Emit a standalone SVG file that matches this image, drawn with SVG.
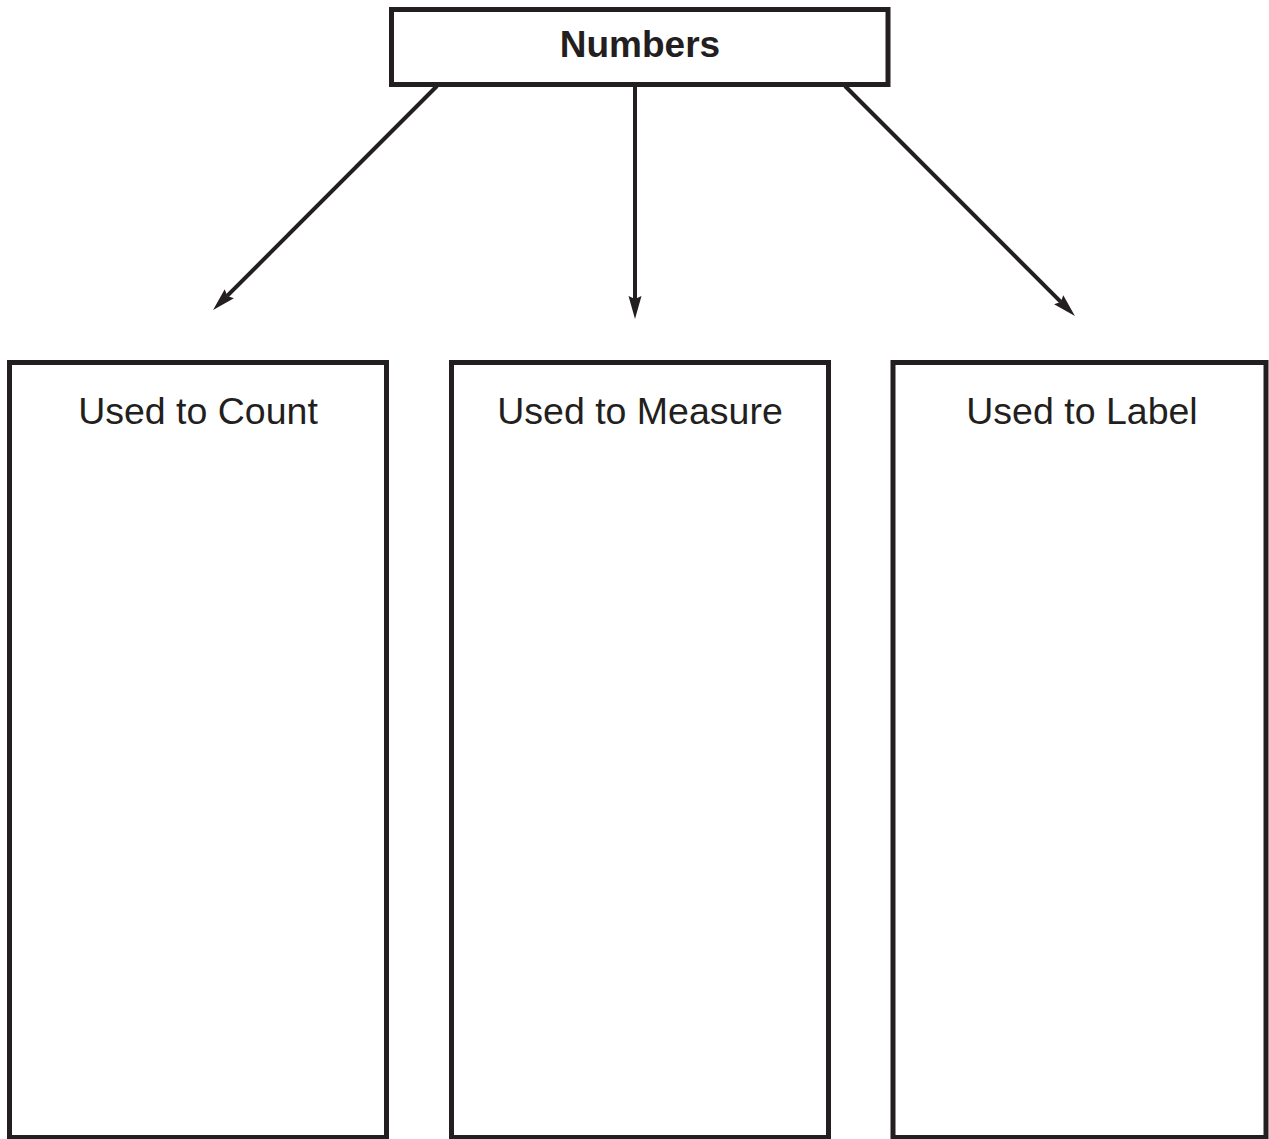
<svg xmlns="http://www.w3.org/2000/svg" width="1269" height="1139" viewBox="0 0 1269 1139">
<style>
.box{fill:#fff;stroke:#231f20;stroke-width:5}
.lbl{font-family:"Liberation Sans",Arial,sans-serif;font-size:37.5px;fill:#231f20;text-anchor:middle}
.title{font-weight:bold;font-size:37px}
.conn{stroke:#231f20;stroke-width:4;fill:none}
</style>
<defs>
<marker id="arr" markerUnits="userSpaceOnUse" markerWidth="30" markerHeight="20" viewBox="0 -10 30 20" refX="3" refY="0" orient="auto">
<path d="M0,-6.5 L23,0 L0,6.5 L3,0 z" fill="#231f20"/>
</marker>
</defs>
<rect width="1269" height="1139" fill="#fff"/>
<g id="connectors">
<line class="conn" x1="437" y1="86" x2="227.2" y2="295.9" marker-end="url(#arr)"/>
<line class="conn" x1="635" y1="86" x2="635" y2="299" marker-end="url(#arr)"/>
<line class="conn" x1="845" y1="86" x2="1060.8" y2="301.9" marker-end="url(#arr)"/>
</g>
<g id="numbers">
<rect class="box" x="391.5" y="9.5" width="496.5" height="75"/>
<text class="lbl title" x="640" y="57">Numbers</text>
</g>
<g id="count">
<rect class="box" x="9.5" y="362.5" width="377" height="775"/>
<text class="lbl" x="198" y="424">Used to Count</text>
</g>
<g id="measure">
<rect class="box" x="451.5" y="362.5" width="377" height="775"/>
<text class="lbl" x="640" y="424">Used to Measure</text>
</g>
<g id="label">
<rect class="box" x="893" y="362.5" width="373" height="775"/>
<text class="lbl" x="1082" y="424">Used to Label</text>
</g>
</svg>
